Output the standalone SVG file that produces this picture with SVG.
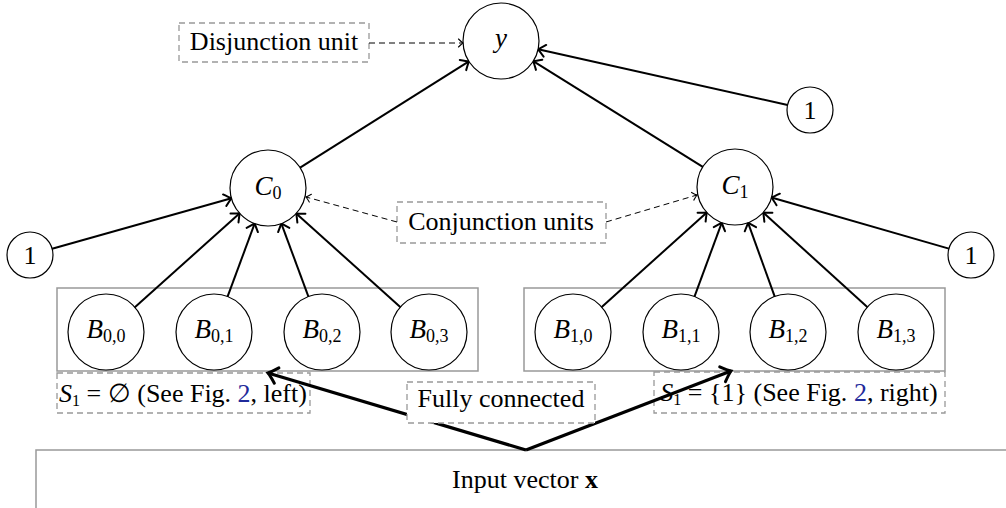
<svg xmlns="http://www.w3.org/2000/svg" width="1006" height="508" viewBox="0 0 1006 508">
<style>
.node{fill:#fff;stroke:#000;stroke-width:1.2}
.lbl{font-family:"Liberation Serif",serif;font-size:26px;fill:#000}
.math{font-family:"Liberation Serif",serif;font-size:27px;font-style:italic;fill:#000}
.sub{font-style:normal;font-size:18px}
.grp{fill:none;stroke:#999;stroke-width:1.5}
.dbox{fill:#fff;stroke:#999;stroke-width:1.3;stroke-dasharray:6,4}
.edge{stroke:#000;stroke-width:2;fill:none;marker-end:url(#arr)}
.thick{stroke:#000;stroke-width:3.2;fill:none;marker-end:url(#arrT)}
.dash{stroke:#000;stroke-width:1;stroke-dasharray:6,4;fill:none;marker-end:url(#arrD)}
.link{fill:#1f2a9a}
</style>
<defs>
<marker id="arr" viewBox="-10 -10 20 20" markerWidth="20" markerHeight="20" refX="0" refY="0" orient="auto" markerUnits="userSpaceOnUse">
<path d="M-7,-6 Q-2,-1.5 0,0 Q-2,1.5 -7,6" fill="none" stroke="#000" stroke-width="2" stroke-linecap="round"/>
</marker>
<marker id="arrT" viewBox="-12 -12 24 24" markerWidth="24" markerHeight="24" refX="0" refY="0" orient="auto" markerUnits="userSpaceOnUse">
<path d="M-9,-8 Q-3,-2 0,0 Q-3,2 -9,8" fill="none" stroke="#000" stroke-width="3" stroke-linecap="round"/>
</marker>
<marker id="arrD" viewBox="-8 -8 16 16" markerWidth="16" markerHeight="16" refX="0" refY="0" orient="auto" markerUnits="userSpaceOnUse">
<path d="M-4.5,-4 Q-1.5,-1 0,0 Q-1.5,1 -4.5,4" fill="none" stroke="#000" stroke-width="1.1" stroke-linecap="round"/>
</marker>
</defs>

<g id="group0"><rect class="grp" x="57" y="288" width="421" height="83"/></g>
<g id="group1"><rect class="grp" x="524" y="288" width="421" height="83"/></g>

<g id="input">
<rect x="36" y="450" width="1000" height="80" fill="#fff" stroke="#999" stroke-width="1.5"/>
<text class="lbl" x="525" y="488" text-anchor="middle">Input vector <tspan font-weight="bold">x</tspan></text>
</g>

<g id="label-disj">
<rect class="dbox" x="179" y="23" width="190" height="39"/>
<text class="lbl" x="274" y="50" text-anchor="middle">Disjunction unit</text>
</g>
<g id="label-conj">
<rect class="dbox" x="397" y="202" width="209" height="41"/>
<text class="lbl" x="501" y="230" text-anchor="middle">Conjunction units</text>
</g>
<g id="label-s0">
<rect class="dbox" x="57" y="373" width="253" height="40"/>
<text class="lbl" x="183" y="402" text-anchor="middle" font-size="23.5"><tspan font-style="italic">S</tspan><tspan font-size="16" dy="4">1</tspan><tspan dy="-4"> = ∅ (See Fig. </tspan><tspan class="link">2</tspan>, left)</text>
</g>
<g id="label-s1">
<rect class="dbox" x="654" y="372" width="291" height="41"/>
<text class="lbl" x="799" y="401" text-anchor="middle" font-size="23.5"><tspan font-style="italic">S</tspan><tspan font-size="16" dy="4">1</tspan><tspan dy="-4"> = {1} (See Fig. </tspan><tspan class="link">2</tspan>, right)</text>
</g>

<g id="connectors">
<line class="edge" x1="134.3" y1="307.7" x2="239.7" y2="213.3"/>
<line class="edge" x1="227.3" y1="297.4" x2="254.7" y2="223.4"/>
<line class="edge" x1="308.7" y1="297.4" x2="281.3" y2="223.4"/>
<line class="edge" x1="400.8" y1="307.6" x2="296.2" y2="213.4"/>
<line class="edge" x1="52.1" y1="248.8" x2="231.4" y2="198.3"/>
<line class="edge" x1="601.2" y1="307.6" x2="706.8" y2="212.4"/>
<line class="edge" x1="694.2" y1="297.4" x2="721.8" y2="222.6"/>
<line class="edge" x1="775" y1="297.3" x2="748" y2="222.7"/>
<line class="edge" x1="867.8" y1="307.5" x2="763.2" y2="212.5"/>
<line class="edge" x1="948.9" y1="248.6" x2="771.5" y2="197.5"/>
<line class="edge" x1="300.1" y1="167.7" x2="468.9" y2="61.3"/>
<line class="edge" x1="702.8" y1="166.9" x2="533.2" y2="61.1"/>
<line class="edge" x1="787.6" y1="105" x2="538.1" y2="49.3"/>
<line class="dash" x1="369" y1="43" x2="463" y2="43"/>
<line class="dash" x1="397" y1="222" x2="306" y2="197"/>
<line class="dash" x1="606" y1="222" x2="697" y2="195"/>
<polyline class="thick" points="526,450 268,373"/>
<polyline class="thick" points="526,450 731,371"/>
</g>

<g id="label-full">
<rect class="dbox" x="407" y="382" width="188" height="41"/>
<text class="lbl" x="501" y="407" text-anchor="middle">Fully connected</text>
</g>

<g id="y"><circle class="node" cx="501" cy="41" r="38"/><text class="math" x="501" y="47" text-anchor="middle">y</text></g>
<g id="C0"><circle class="node" cx="268" cy="188" r="38"/><text class="math" x="268" y="195" text-anchor="middle">C<tspan class="sub" dy="4">0</tspan></text></g>
<g id="C1"><circle class="node" cx="735" cy="187" r="38"/><text class="math" x="735" y="194" text-anchor="middle">C<tspan class="sub" dy="4">1</tspan></text></g>
<g id="bias0"><circle class="node" cx="30" cy="255" r="23"/><text class="lbl" x="30" y="264" text-anchor="middle">1</text></g>
<g id="biasY"><circle class="node" cx="810" cy="110" r="23"/><text class="lbl" x="810" y="119" text-anchor="middle">1</text></g>
<g id="bias1"><circle class="node" cx="971" cy="255" r="23"/><text class="lbl" x="971" y="264" text-anchor="middle">1</text></g>
<g id="B00"><circle class="node" cx="106" cy="332" r="38"/><text class="math" x="106" y="338" text-anchor="middle">B<tspan class="sub" dy="4">0,0</tspan></text></g>
<g id="B01"><circle class="node" cx="214" cy="332" r="38"/><text class="math" x="214" y="338" text-anchor="middle">B<tspan class="sub" dy="4">0,1</tspan></text></g>
<g id="B02"><circle class="node" cx="322" cy="332" r="38"/><text class="math" x="322" y="338" text-anchor="middle">B<tspan class="sub" dy="4">0,2</tspan></text></g>
<g id="B03"><circle class="node" cx="429" cy="332" r="38"/><text class="math" x="429" y="338" text-anchor="middle">B<tspan class="sub" dy="4">0,3</tspan></text></g>
<g id="B10"><circle class="node" cx="573" cy="332" r="38"/><text class="math" x="573" y="338" text-anchor="middle">B<tspan class="sub" dy="4">1,0</tspan></text></g>
<g id="B11"><circle class="node" cx="681" cy="332" r="38"/><text class="math" x="681" y="338" text-anchor="middle">B<tspan class="sub" dy="4">1,1</tspan></text></g>
<g id="B12"><circle class="node" cx="788" cy="332" r="38"/><text class="math" x="788" y="338" text-anchor="middle">B<tspan class="sub" dy="4">1,2</tspan></text></g>
<g id="B13"><circle class="node" cx="896" cy="332" r="38"/><text class="math" x="896" y="338" text-anchor="middle">B<tspan class="sub" dy="4">1,3</tspan></text></g>
</svg>
